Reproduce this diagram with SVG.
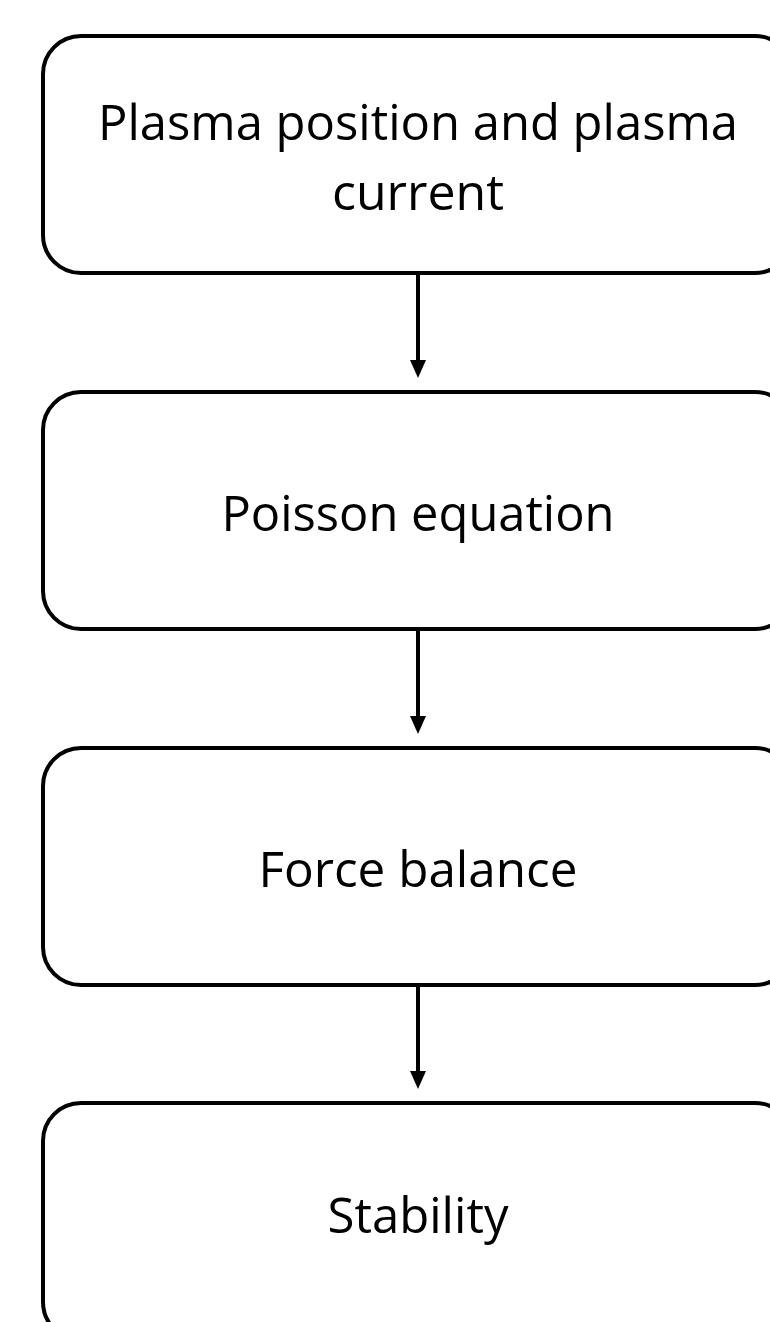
<svg xmlns="http://www.w3.org/2000/svg" width="770" height="1322" viewBox="0 0 770 1322">
<defs>
<style>
.box{fill:#fff;stroke:#000;stroke-width:4}
.lbl{font-family:"Open Sans","Liberation Sans",Arial,sans-serif;font-size:50px;fill:#000;text-anchor:middle}
.conn{stroke:#000;stroke-width:4;fill:none}
.head{fill:#000}
</style>
</defs>
<rect width="770" height="1322" fill="#fff"/>
<g id="node1">
<rect class="box" x="43" y="36" width="750" height="237" rx="38"/>
<text class="lbl" x="418" y="140" textLength="640" lengthAdjust="spacingAndGlyphs">Plasma position and plasma</text>
<text class="lbl" x="418" y="210" textLength="172" lengthAdjust="spacingAndGlyphs">current</text>
</g>
<g id="node2">
<rect class="box" x="43" y="392" width="750" height="237" rx="38"/>
<text class="lbl" x="418" y="531" textLength="393" lengthAdjust="spacingAndGlyphs">Poisson equation</text>
</g>
<g id="node3">
<rect class="box" x="43" y="748" width="750" height="237" rx="38"/>
<text class="lbl" x="418" y="887" textLength="319" lengthAdjust="spacingAndGlyphs">Force balance</text>
</g>
<g id="node4">
<rect class="box" x="43" y="1103" width="750" height="237" rx="38"/>
<text class="lbl" x="418" y="1233" textLength="181" lengthAdjust="spacingAndGlyphs">Stability</text>
</g>
<g id="connectors">
<line class="conn" x1="418" y1="275" x2="418" y2="362"/>
<polygon class="head" points="410,360 426,360 418,378"/>
<line class="conn" x1="418" y1="631" x2="418" y2="718"/>
<polygon class="head" points="410,716 426,716 418,734"/>
<line class="conn" x1="418" y1="987" x2="418" y2="1073"/>
<polygon class="head" points="410,1071 426,1071 418,1089"/>
</g>
</svg>
